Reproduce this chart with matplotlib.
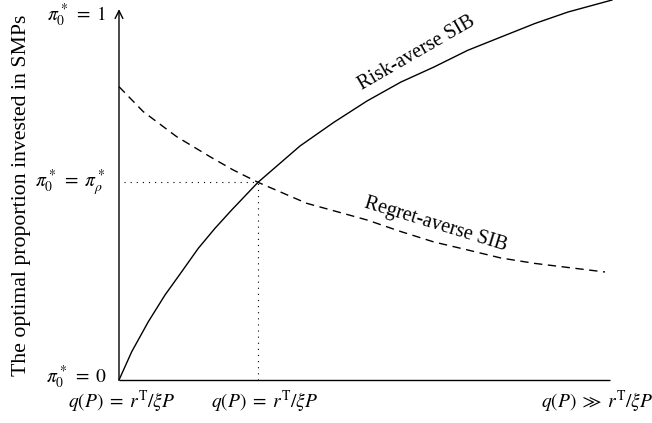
import matplotlib
matplotlib.use("Agg")
import matplotlib.pyplot as plt

plt.rcParams['font.family'] = ['Liberation Serif', 'DejaVu Serif']
plt.rcParams['mathtext.fontset'] = 'stix'

# Risk-averse SIB curve (normalised q(P) axis, optimal proportion)
risk_x = [0.0, 0.0259, 0.0597, 0.0937, 0.1277, 0.1615, 0.1955, 0.2295, 0.2831,
          0.3686, 0.437, 0.5051, 0.5737, 0.6415, 0.7103, 0.7780, 0.8470, 0.9145, 1.004]
risk_y = [0.0, 0.0775, 0.1597, 0.2329, 0.2967, 0.3608, 0.4156, 0.4658, 0.5416,
          0.6411, 0.7055, 0.7644, 0.816, 0.8575, 0.9033, 0.9397, 0.9767, 1.0082, 1.041]

# Regret-averse SIB curve
regret_x = [0.0, 0.0495, 0.1175, 0.1853, 0.2328, 0.2831, 0.3823, 0.437, 0.5051,
            0.5737, 0.6415, 0.7103, 0.7780, 0.847, 0.9898]
regret_y = [0.8036, 0.7351, 0.6666, 0.6118, 0.5753, 0.5416, 0.4841, 0.4638, 0.4384,
            0.4068, 0.3781, 0.3562, 0.3342, 0.3194, 0.2959]

# Intersection point
cross_x, cross_y = 0.2831, 0.5416

ytick_labels = [r'$\pi_0^*\;=\;0$', r'$\pi_0^*\;=\;\pi_\rho^*$', r'$\pi_0^*\;=\;1$']
xtick_labels = [r'$q(P)\;=\;r^{\mathrm{T}}/\xi P$', r'$q(P)\;=\;r^{\mathrm{T}}/\xi P$',
                r'$q(P)\;\gg\;r^{\mathrm{T}}/\xi P$']

W, H = 652, 423
fig = plt.figure(figsize=(W / 100, H / 100), dpi=100)
ax = fig.add_axes([119 / W, (H - 380) / H, 491 / W, 365 / H])
ax.set_xlim(0, 1)
ax.set_ylim(0, 1)
ax.axis('off')

# axes
ax.plot([0, 1], [0, 0], color='black', lw=1.0, clip_on=False, solid_capstyle='butt')
ax.annotate('', xy=(0, 1.016), xytext=(0, 0), xycoords='data',
            arrowprops=dict(arrowstyle='->', lw=1.0, color='black',
                            mutation_scale=14, shrinkA=0, shrinkB=0),
            annotation_clip=False)

# curves
ax.plot(risk_x, risk_y, color='black', lw=1.0, clip_on=False)
ax.plot(regret_x, regret_y, color='black', lw=1.0, linestyle=(0, (6, 4)), clip_on=False)

# guide lines
ax.plot([0.01, cross_x], [cross_y, cross_y], color='black', lw=0.8,
        linestyle=(0, (1, 4.5)))
ax.plot([cross_x, cross_x], [0.0, cross_y], color='black', lw=0.8,
        linestyle=(0, (1, 4.5)))

fs = 14
# y labels
ax.text(-0.025, 0.008, ytick_labels[0], ha='right', va='center', fontsize=fs, clip_on=False)
ax.text(-0.027, cross_y, ytick_labels[1], ha='right', va='center', fontsize=fs, clip_on=False)
ax.text(-0.027, 1.0, ytick_labels[2], ha='right', va='center', fontsize=fs, clip_on=False)

# x labels
ax.text(0.006, -0.06, xtick_labels[0], ha='center', va='center', fontsize=fs)
ax.text(0.297, -0.06, xtick_labels[1], ha='center', va='center', fontsize=fs)
ax.text(1.0875, -0.06, xtick_labels[2], ha='right', va='center', fontsize=fs)

ax.text(-0.199, 0.505, 'The optimal proportion invested in SMPs', rotation=90,
        ha='center', va='center', fontsize=15.7)

ax.text(0.607, 0.896, 'Risk-averse SIB', rotation=30, ha='center', va='center',
        fontsize=14.5, rotation_mode='anchor')
ax.text(0.6456, 0.425, 'Regret-averse SIB', rotation=-17, ha='center', va='center',
        fontsize=14.5, rotation_mode='anchor')

fig.savefig('out.png', dpi=100)
